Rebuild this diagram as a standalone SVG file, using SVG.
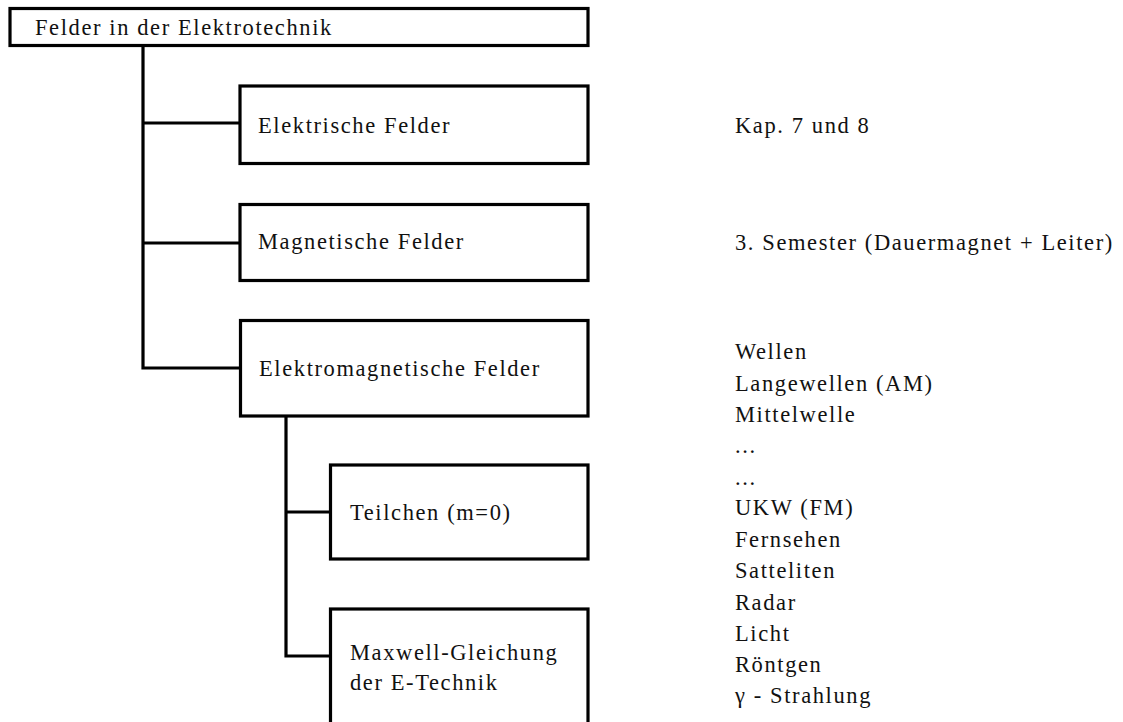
<svg xmlns="http://www.w3.org/2000/svg" width="1123" height="722" viewBox="0 0 1123 722">
<style>
.box{fill:#fff;stroke:#000;stroke-width:3.2}
.con{fill:none;stroke:#000;stroke-width:3.2}
text{font-family:"Liberation Serif","Times New Roman",serif;font-size:22.5px;letter-spacing:1.6px;fill:#111}
</style>
<rect width="1123" height="722" fill="#fff"/>
<g id="connectors">
<path class="con" d="M143,45 V368 H240"/>
<path class="con" d="M143,123 H240"/>
<path class="con" d="M143,243 H240"/>
<path class="con" d="M286,416 V656 H330"/>
<path class="con" d="M286,512 H330"/>
</g>
<g id="n-root"><rect class="box" x="10" y="8.5" width="578" height="37"/><text x="35" y="35">Felder in der Elektrotechnik</text></g>
<g id="n-elektrisch"><rect class="box" x="240" y="86" width="348" height="77.5"/><text x="258" y="133">Elektrische Felder</text></g>
<g id="n-magnetisch"><rect class="box" x="240" y="204.5" width="348" height="76"/><text x="258" y="249">Magnetische Felder</text></g>
<g id="n-em"><rect class="box" x="240.5" y="320.5" width="347.5" height="95.5"/><text x="259" y="376">Elektromagnetische Felder</text></g>
<g id="n-teilchen"><rect class="box" x="330.5" y="465" width="257.5" height="94"/><text x="350" y="520">Teilchen (m=0)</text></g>
<g id="n-maxwell"><rect class="box" x="330.5" y="609" width="257.5" height="130"/><text x="350" y="660">Maxwell-Gleichung</text><text x="350" y="690">der E-Technik</text></g>
<g id="notes">
<text x="735" y="133">Kap. 7 und 8</text>
<text x="735" y="250">3. Semester (Dauermagnet + Leiter)</text>
<text x="735" y="359">Wellen</text>
<text x="735" y="391">Langewellen (AM)</text>
<text x="735" y="422">Mittelwelle</text>
<text x="735" y="453">...</text>
<text x="735" y="485">...</text>
<text x="735" y="515">UKW (FM)</text>
<text x="735" y="547">Fernsehen</text>
<text x="735" y="578">Satteliten</text>
<text x="735" y="610">Radar</text>
<text x="735" y="641">Licht</text>
<text x="735" y="672">Röntgen</text>
<text x="735" y="703">γ - Strahlung</text>
</g>
</svg>
